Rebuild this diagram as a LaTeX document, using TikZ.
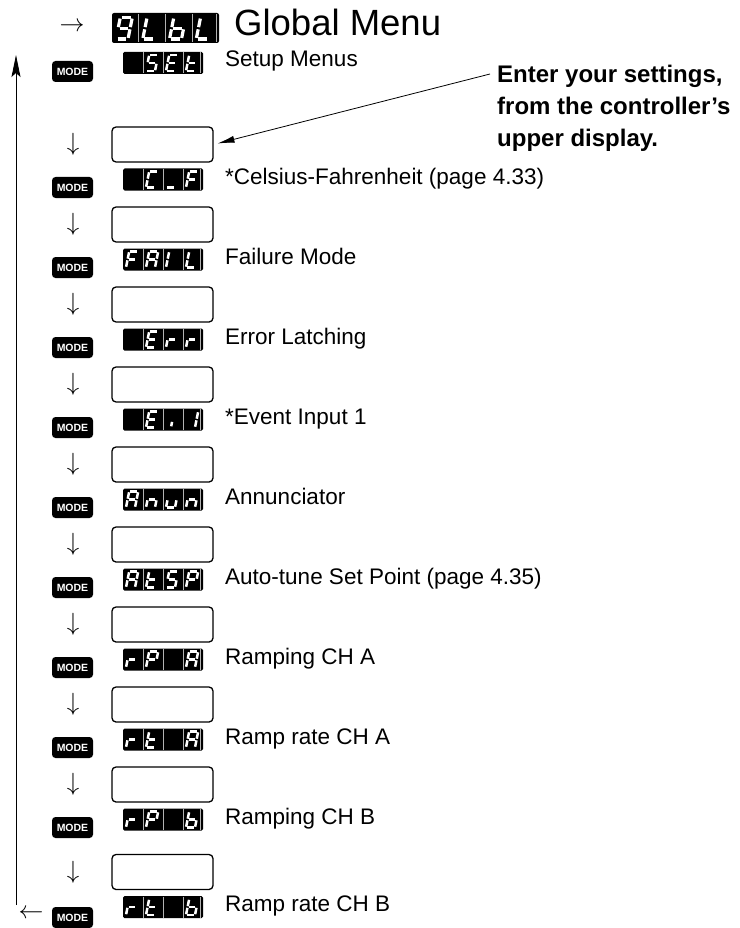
\documentclass[tikz,border=0pt]{standalone}
\usepackage{fontspec}
\setmainfont{Liberation Sans}
\usetikzlibrary{arrows.meta}
\pgfkeys{/segs/.is family,
 /segs/a/.code={\draw[white] (0.14,2)--(0.86,2);},
 /segs/b/.code={\draw[white] (1,1.9)--(1,1.1);},
 /segs/c/.code={\draw[white] (1,0.9)--(1,0.1);},
 /segs/d/.code={\draw[white] (0.14,0)--(0.86,0);},
 /segs/e/.code={\draw[white] (0,0.9)--(0,0.1);},
 /segs/f/.code={\draw[white] (0,1.9)--(0,1.1);},
 /segs/g/.code={\draw[white] (0.14,1)--(0.86,1);},
 /segs/i/.code={\draw[white] (0.55,0.7)--(0.55,0.15);},
}
\newcommand\glyph[6]{%
 \if\relax\detokenize{#6}\relax\else
 \begin{scope}[shift={({#1},{#2})},x=#3pt,y=#4pt,xslant=0.2,line width=#5pt]
 \pgfkeys{/segs/.cd,#6}
 \end{scope}\fi}
\newcommand\sdisp[6]{%
 \node[dispsmall] (#1) at (163,#2) {};
 \foreach \k in {143,163,183}{\draw[sepline] (\k,#2-10.5) -- (\k,#2+10.5);}
 \draw[sepline] (200.5,#2-10.5) -- (200.5,#2+10.5);
 \glyph{126}{#2+8}{9}{8}{2.5}{#3}
 \glyph{146}{#2+8}{9}{8}{2.5}{#4}
 \glyph{166}{#2+8}{9}{8}{2.5}{#5}
 \glyph{186}{#2+8}{9}{8}{2.5}{#6}}
\newcommand\itemrow[8]{%
 \node[entrybox] (box#1) at (162.5,#2) {};
 \node[darrow] (dn#1) at (73,#2) {$\downarrow$};
 \sdisp{disp#1}{#2+35}{#3}{#4}{#5}{#6}
 \node[modebtn] (mode#1) at (72.5,#2+35+#8) {MODE};
 \node[lbl] (lbl#1) at (225,#2+39.5) {#7};}
\begin{document}
\begin{tikzpicture}[x=1pt,y=-1pt,
  dispsmall/.style={rectangle,fill=black,rounded corners=1.5pt,minimum width=80pt,minimum height=22pt,inner sep=0pt},
  dispbig/.style={rectangle,fill=black,rounded corners=2pt,minimum width=107pt,minimum height=30pt,inner sep=0pt},
  sepline/.style={draw=gray!60,line width=0.6pt},
  entrybox/.style={rectangle,draw=black,line width=1.3pt,fill=white,rounded corners=4pt,minimum width=101pt,minimum height=35pt,inner sep=0pt},
  modebtn/.style={rectangle,fill=black,text=white,rounded corners=3.5pt,minimum width=41pt,minimum height=21pt,inner sep=0pt,font=\fontsize{10.5}{10.5}\selectfont\bfseries},
  darrow/.style={inner sep=0pt,font=\fontsize{24}{24}\selectfont},
  lbl/.style={anchor=base west,inner sep=0pt,font=\fontsize{22.5}{22.5}\selectfont},
  calltext/.style={anchor=north west,inner sep=0pt,align=left,font=\fontsize{24}{32}\selectfont\bfseries},
  loopline/.style={line width=0.9pt,-{Stealth[length=22pt,width=9pt,inset=4pt]}},
  callline/.style={line width=0.8pt,-{Latex[length=17pt,width=7pt]},shorten >=4pt}]
\useasboundingbox (0,0) rectangle (739,928);
% loop line
\coordinate (loopbot) at (16,905);
\coordinate (looptop) at (16,55);
\draw[loopline] (loopbot) -- (looptop);
\node[darrow] (arrback) at (31,914) {$\leftarrow$};
% title
\node[darrow] (arrin) at (72,27) {$\rightarrow$};
\node[dispbig] (dispglbl) at (165.5,28) {};
\foreach \k in {138.75,165.5,192.25,216.5}{\draw[sepline] (\k,14) -- (\k,42);}
\glyph{116}{39}{12}{10.75}{3.2}{a,b,c,d,f,g}
\glyph{142.75}{39}{12}{10.75}{3.2}{d,e,f}
\glyph{169.5}{39}{12}{10.75}{3.2}{c,d,e,f,g}
\glyph{196.25}{39}{12}{10.75}{3.2}{d,e,f}
\node[anchor=base west,inner sep=0pt,font=\fontsize{36.5}{36.5}\selectfont] (title) at (234,36) {Global Menu};
% setup row
\sdisp{dispset}{63}{}{a,c,d,f,g}{a,d,e,f,g}{d,e,f,g}
\node[modebtn] (modeset) at (72.5,71.5) {MODE};
\node[lbl] (lblset) at (225,67) {Setup Menus};
% rows
\itemrow{1}{144.5}{}{a,d,e,f}{d}{a,e,f,g}{*Celsius-Fahrenheit (page 4.33)}{8}
\itemrow{2}{224.5}{a,e,f,g}{a,b,c,e,f,g}{e,f}{d,e,f}{Failure Mode}{8}
\itemrow{3}{304.5}{}{a,d,e,f,g}{e,g}{e,g}{Error Latching}{8}
\itemrow{4}{384.5}{}{a,d,e,f,g}{i}{b,c}{*Event Input 1}{8}
\itemrow{5}{464.5}{a,b,c,e,f,g}{c,e,g}{c,d,e}{c,e,g}{Annunciator}{8}
\itemrow{6}{544.5}{a,b,c,e,f,g}{d,e,f,g}{a,c,d,f,g}{a,b,e,f,g}{Auto-tune Set Point (page 4.35)}{8}
\itemrow{7}{624.5}{e,g}{a,b,e,f,g}{}{a,b,c,e,f,g}{Ramping CH A}{8}
\itemrow{8}{704.5}{e,g}{d,e,f,g}{}{a,b,c,e,f,g}{Ramp rate CH A}{8}
\itemrow{9}{784.5}{e,g}{a,b,e,f,g}{}{c,d,e,f,g}{Ramping CH B}{8}
\itemrow{10}{872}{e,g}{d,e,f,g}{}{c,d,e,f,g}{Ramp rate CH B}{10.5}
% callout
\node[calltext] (callout) at (497,64.5) {Enter your settings,\\from the controller’s\\upper display.};
\coordinate (callstart) at (490,74);
\draw[callline] (callstart) -- (box1.east);
\end{tikzpicture}
\end{document}
